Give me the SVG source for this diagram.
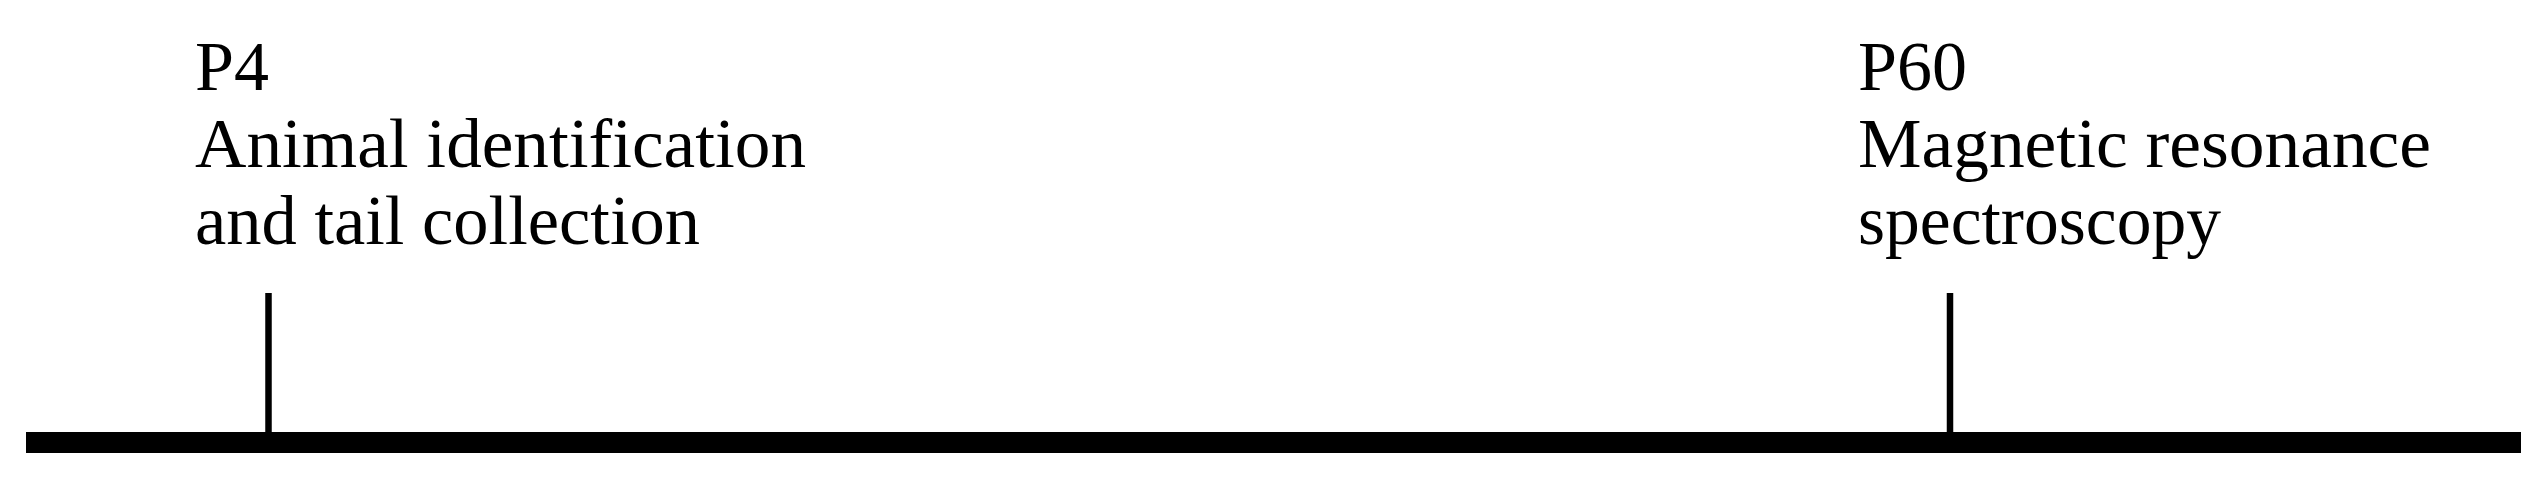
<svg xmlns="http://www.w3.org/2000/svg" width="2546" height="489" viewBox="0 0 2546 489">
<style>
.lbl{font-family:"Liberation Serif","DejaVu Serif",serif;font-size:70px;fill:#000}
.tick{stroke:#000;stroke-width:6.5;fill:none}
</style>
<rect x="0" y="0" width="2546" height="489" fill="#fff"/>
<g id="connectors">
<rect id="axis" x="26" y="432" width="2495" height="21" fill="#000"/>
<line class="tick" x1="268.5" y1="293" x2="268.5" y2="433"/>
<line class="tick" x1="1950" y1="293" x2="1950" y2="433"/>
</g>
<g id="node-p4">
<text class="lbl" x="195" y="90">P4</text>
<text class="lbl" x="195" y="167" textLength="611" lengthAdjust="spacingAndGlyphs">Animal identification</text>
<text class="lbl" x="195" y="244" textLength="505" lengthAdjust="spacingAndGlyphs">and tail collection</text>
</g>
<g id="node-p60">
<text class="lbl" x="1858" y="90">P60</text>
<text class="lbl" x="1858" y="167" textLength="573" lengthAdjust="spacingAndGlyphs">Magnetic resonance</text>
<text class="lbl" x="1858" y="244" textLength="363" lengthAdjust="spacingAndGlyphs">spectroscopy</text>
</g>
</svg>
